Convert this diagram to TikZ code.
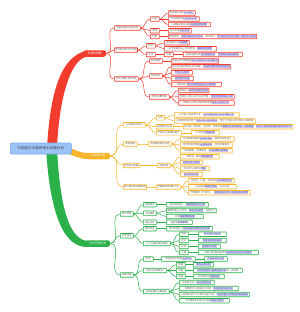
\documentclass[tikz,border=0pt]{standalone}
\usepackage{fontspec}
\setmainfont{Noto Sans CJK SC}
\definecolor{cR}{HTML}{F23C2E}
\definecolor{cO}{HTML}{F7B52C}
\definecolor{cG}{HTML}{2BB14A}
\definecolor{tc}{HTML}{606060}
\definecolor{hlc}{HTML}{CFCBF2}
\definecolor{hlt}{HTML}{5A58B8}
\definecolor{rootf}{HTML}{9EC3F7}
\definecolor{rootd}{HTML}{78A8EE}
\newcommand\fs{\fontsize{2.4}{2.6}\selectfont}
\newcommand\hl[1]{{\setlength{\fboxsep}{0.15bp}\colorbox{hlc}{\textcolor{hlt}{#1}}}}
\newcommand\lnk[3]{\foreach \cc in {#3} \draw[#1,con] (#2.east) to[out=0,in=180] (\cc.west);}
\begin{document}
\begin{tikzpicture}[x=1bp,y=-1bp,
 box/.style={anchor=west, fill=white, line width=0.7bp, rounded corners=0.5bp, inner xsep=0.8bp, inner ysep=0bp, minimum height=4.6bp, text height=1.9bp, text depth=0.5bp, font=\fs, text=tc},
 rb/.style={box,draw=cR}, ob/.style={box,draw=cO}, gb/.style={box,draw=cG},
 mainbox/.style={anchor=west, rounded corners=2.5bp, inner sep=0bp, minimum height=6.5bp, text height=2.3bp, text depth=0.6bp, font=\fontsize{2.8}{3}\selectfont, text=white},
 con/.style={line width=0.5bp},
]
\fill[white] (0,0) rectangle (300,312);
\useasboundingbox (0,0) rectangle (300,312);
% thick branches
\fill[cR] (47,148) .. controls (50,95) and (60,55) .. (88,50.5) -- (88,56.5) .. controls (70,58) and (59,100) .. (57,148) -- cycle;
\fill[cG] (46,148) .. controls (50,215) and (64,248) .. (88,247) -- (88,241) .. controls (70,240) and (60,210) .. (57,148) -- cycle;
\fill[cO] (66,146.5) .. controls (75,149) and (78,153) .. (88,153) -- (88,159) .. controls (78,159) and (74,155) .. (66,153.5) -- cycle;
% root
\node[anchor=west, fill=rootf, draw=rootd, line width=0.6bp, rounded corners=1bp, minimum width=61bp, minimum height=11bp, inner sep=0bp, font=\fontsize{3.6}{4}\selectfont, text=black!75] (root) at (10,148.5) {中国成为半殖民地半封建社会};
% main nodes
\node[mainbox, fill=cR, minimum width=23bp] (R) at (83,53.5) {列强的侵略};
\node[mainbox, fill=cO, minimum width=24bp] (O) at (86,156) {反侵略斗争};
\node[mainbox, fill=cG, minimum width=25bp] (N) at (85,243.5) {近代历史任务};
% ---------- red
\node[rb,minimum width=26bp] (A) at (114,28) {军事侵略与政治控制};
\node[rb,minimum width=9bp] (A1) at (150,19) {战争};
\node[rb,minimum width=9bp] (A2) at (150,30.7) {割地};
\node[rb,minimum width=9bp] (A3) at (150,36.5) {控制};
\node[rb,minimum width=27bp] (A1a) at (168,13) {两次鸦片战争\hl{打开国门}};
\node[rb,minimum width=31bp] (A1b) at (168,19) {中法战争和\hl{中日甲午战争}};
\node[rb,minimum width=42bp] (A1c) at (168,24.5) {八国联军侵华战争\hl{与日俄战争爆发}};
\node[rb,minimum width=23bp] (A2a) at (168,30.7) {割占中国\hl{大片领土}};
\node[rb,minimum width=86bp] (A3a) at (168,36.5) {勒索赔款，\hl{控制中国内政与外交}，把持海关，\hl{在中国划分势力范围，掀起瓜分狂潮}};
\node[rb,minimum width=23bp] (B) at (114,50) {经济掠夺和文化渗透};
\node[rb,minimum width=9bp] (B1) at (146,45.8) {经济};
\node[rb,minimum width=9bp] (B2) at (146,54.5) {文化};
\node[rb,minimum width=25bp] (B1a) at (164,42.7) {控制通商口岸\hl{和贸易}};
\node[rb,minimum width=52bp] (B1b) at (164,48.8) {对华倾销商品，掠夺原料，\hl{操纵经济命脉}};
\node[rb,minimum width=9bp] (B2a) at (164,54.5) {宗教};
\node[rb,minimum width=59bp] (B2b) at (183,54.5) {披着宗教外衣\hl{进行侵略活动}，\hl{为侵略中国制造舆论}};
\node[rb,minimum width=24bp] (C) at (114,79) {近代中国社会的变化};
\node[rb,minimum width=13bp] (C1) at (149,61) {社会性质};
\node[rb,minimum width=13bp] (C2) at (149,76) {阶级变化};
\node[rb,minimum width=20bp] (C3) at (149,97) {两对主要矛盾};
\node[rb,minimum width=46bp] (C1a) at (171,61) {由独立的封建国家\hl{变为半殖民地半封建国家}};
\node[rb,minimum width=55bp] (C2a) at (171,66.7) {地主阶级是封建统治的基础，\hl{农民阶级是主要被剥削者}};
\node[rb,minimum width=21bp] (C2b) at (171,72.7) {\hl{产生工人阶级}};
\node[rb,minimum width=22bp] (C2c) at (171,78.5) {\hl{民族资产阶级}};
\node[rb,minimum width=50bp] (C2d) at (171,84.5) {官僚买办\hl{资产阶级是帝国主义的附庸}};
\node[rb,minimum width=30bp] (C3a) at (178,90.5) {帝国主义\hl{和中华民族的矛盾}};
\node[rb,minimum width=56bp] (C3b) at (178,96.7) {封建主义和人民大众的矛盾，\hl{两对矛盾交织在一起}};
\node[rb,minimum width=56bp] (C3c) at (178,103) {帝国主义和中华民族的矛盾\hl{是最主要的矛盾}};
\lnk{cR}{R}{A,B,C}
\lnk{cR}{A}{A1,A2,A3}
\lnk{cR}{A1}{A1a,A1b,A1c}
\lnk{cR}{A2}{A2a}
\lnk{cR}{A3}{A3a}
\lnk{cR}{B}{B1,B2}
\lnk{cR}{B1}{B1a,B1b}
\lnk{cR}{B2}{B2a}
\lnk{cR}{B2a}{B2b}
\lnk{cR}{C}{C1,C2,C3}
\lnk{cR}{C1}{C1a}
\lnk{cR}{C2}{C2a,C2b,C2c,C2d}
\lnk{cR}{C3}{C3a,C3b,C3c}
% ---------- orange
\node[ob,minimum width=22bp] (D) at (123,124.8) {人民群众的反抗};
\node[ob,minimum width=8bp] (D1) at (156,117.8) {斗争};
\node[ob,minimum width=17bp] (D2) at (156,126.7) {爱国官兵抗战};
\node[ob,minimum width=25bp] (D3) at (156,132.8) {列强瓜分图谋的破产};
\node[ob,minimum width=65bp] (D1a) at (174,115) {三元里人民抗英斗争，\hl{太平天国运动中的反侵略斗争}};
\node[ob,minimum width=81bp] (D1b) at (174,121) {义和团运动粉碎了\hl{列强瓜分中国的图谋}，显示了中国人民不屈的斗争精神};
\node[ob,minimum width=107bp] (D2a) at (183,126.7) {关天培、陈化成、左宝贵、邓世昌等\hl{爱国将士英勇抗敌，为国捐躯}，\hl{表现了崇高的爱国精神和民族气节}};
\node[ob,minimum width=28bp] (D3a) at (191,132.8) {中华民族\hl{顽强抗争}};
\node[ob,minimum width=14bp] (E) at (123,144) {失败原因};
\node[ob,minimum width=23bp] (E1) at (148,144) {反侵略战争的失败};
\node[ob,minimum width=54bp] (E1a) at (180,139) {社会制度的腐败\hl{是根本原因}，清政府妥协退让};
\node[ob,minimum width=52bp] (E1b) at (180,145) {经济技术的落后\hl{是重要原因}，军队装备落后};
\node[ob,minimum width=52bp] (E1c) at (180,150.7) {政治腐败，军事落后，\hl{无法抵御外国侵略}};
\node[ob,minimum width=16bp] (F) at (123,165.5) {民族意识觉醒};
\node[ob,minimum width=13bp] (F1) at (157,165.5) {觉醒历程};
\node[ob,minimum width=39bp] (F1a) at (180,156.7) {林则徐、魏源\hl{开眼看世界}};
\node[ob,minimum width=22bp] (F1b) at (180,162.5) {\hl{师夷长技以制夷}};
\node[ob,minimum width=29bp] (F1c) at (180,168.5) {中日甲午战争后\hl{觉醒}};
\node[ob,minimum width=22bp] (F1d) at (180,174.5) {\hl{振兴中华口号}};
\node[ob,minimum width=23bp] (G) at (123,187) {救亡图存的早期探索};
\node[ob,minimum width=24bp] (G1) at (156,187) {早期维新思想的产生};
\node[ob,minimum width=46bp] (G1a) at (188,180.7) {冯桂芬、王韬、郑观应等\hl{人的维新主张}};
\node[ob,minimum width=48bp] (G1b) at (188,186.7) {主张发展\hl{民族工商业}，设立议院};
\node[ob,minimum width=62bp] (G1c) at (188,192.7) {严复翻译《天演论》，\hl{宣传物竞天择、适者生存的思想}};
\lnk{cO}{O}{D,E,F,G}
\lnk{cO}{D}{D1,D2,D3}
\lnk{cO}{D1}{D1a,D1b}
\lnk{cO}{D2}{D2a}
\lnk{cO}{D3}{D3a}
\lnk{cO}{E}{E1}
\lnk{cO}{E1}{E1a,E1b,E1c}
\lnk{cO}{F}{F1}
\lnk{cO}{F1}{F1a,F1b,F1c,F1d}
\lnk{cO}{G}{G1}
\lnk{cO}{G1}{G1a,G1b,G1c}
% ---------- green
\node[gb,minimum width=13bp] (H) at (120,214) {两大任务};
\node[gb,minimum width=13bp] (H1) at (143,204.7) {民族独立};
\node[gb,minimum width=13bp] (H2) at (143,213.3) {人民解放};
\node[gb,minimum width=13bp] (H3) at (143,222.3) {相互关系};
\node[gb,minimum width=42bp] (H1a) at (166,204.7) {争取民族独立，\hl{摆脱帝国主义压迫}};
\node[gb,minimum width=50bp] (H2a) at (166,210.5) {推翻封建主义统治，\hl{实现人民解放}，当家作主};
\node[gb,minimum width=37bp] (H2b) at (166,216.5) {实现\hl{国家繁荣富强}};
\node[gb,minimum width=26bp] (H3a) at (166,222.3) {前者是\hl{后者前提}};
\node[gb,minimum width=13bp] (I) at (120,235.7) {社会特征};
\node[gb,minimum width=13bp] (I1) at (143,228.7) {基本特征};
\node[gb,minimum width=27bp] (I2) at (143,243.5) {六个方面的具体表现};
\node[gb,minimum width=46bp] (I1a) at (166,228.7) {资本帝国主义\hl{成为支配中国的决定力量}};
\node[gb,minimum width=9bp] (I2a) at (179,234.2) {政治};
\node[gb,minimum width=9bp] (I2b) at (179,240.5) {经济};
\node[gb,minimum width=9bp] (I2c) at (179,246.5) {社会};
\node[gb,minimum width=9bp] (I2d) at (179,252.5) {人民};
\node[gb,minimum width=28bp] (I2a1) at (198,234.2) {\hl{失去独立的主权}};
\node[gb,minimum width=28bp] (I2b1) at (198,240.5) {\hl{封建剥削制度保持}};
\node[gb,minimum width=22bp] (I2c1) at (198,246.5) {\hl{发展极不平衡}};
\node[gb,minimum width=60bp] (I2d1) at (198,252.5) {中国人民特别是农民\hl{日益贫困化以至大批破产}};
\node[gb,minimum width=13bp] (J) at (120,275) {发展过程};
\node[gb,minimum width=10bp] (J1) at (143,259) {阶段};
\node[gb,minimum width=34bp] (J1a) at (161,259) {半殖民地半封建\hl{社会形成}};
\node[gb,minimum width=23bp] (J1b) at (204,259) {\hl{不断加深的过程}};
\node[gb,minimum width=23bp] (J2) at (143,270.5) {各阶段主要事件};
\node[gb,minimum width=9bp] (J2a) at (176,264.7) {初期};
\node[gb,minimum width=9bp] (J2b) at (176,270.5) {中期};
\node[gb,minimum width=9bp] (J2c) at (176,276.5) {后期};
\node[gb,minimum width=20bp] (J2a1) at (193,264.7) {\hl{鸦片战争以后}};
\node[gb,minimum width=49bp] (J2b1) at (193,270.5) {\hl{甲午战争和八国联军侵华后}进一步加深};
\node[gb,minimum width=31bp] (J2c1) at (193,276.5) {辛亥革命后\hl{继续存在}};
\node[gb,minimum width=26bp] (J3) at (143,291.5) {社会发展的主要趋势};
\node[gb,minimum width=35bp] (J3a) at (179,282.5) {外国资本主义\hl{的入侵与压迫}};
\node[gb,minimum width=59bp] (J3b) at (179,288.5) {封建势力与帝国主义勾结，\hl{共同压迫中国人民}};
\node[gb,minimum width=70bp] (J3c) at (179,294.5) {人民群众进行了不屈不挠的斗争，\hl{先进中国人不断探索救国道路}};
\node[gb,minimum width=50bp] (J3d) at (179,300.7) {为中国革命的发生和发展\hl{提供了条件}};
\lnk{cG}{N}{H,I,J}
\lnk{cG}{H}{H1,H2,H3}
\lnk{cG}{H1}{H1a}
\lnk{cG}{H2}{H2a,H2b}
\lnk{cG}{H3}{H3a}
\lnk{cG}{I}{I1,I2}
\lnk{cG}{I1}{I1a}
\lnk{cG}{I2}{I2a,I2b,I2c,I2d}
\lnk{cG}{I2a}{I2a1}
\lnk{cG}{I2b}{I2b1}
\lnk{cG}{I2c}{I2c1}
\lnk{cG}{I2d}{I2d1}
\lnk{cG}{J}{J1,J2,J3}
\lnk{cG}{J1}{J1a}
\lnk{cG}{J1a}{J1b}
\lnk{cG}{J2}{J2a,J2b,J2c}
\lnk{cG}{J2a}{J2a1}
\lnk{cG}{J2b}{J2b1}
\lnk{cG}{J2c}{J2c1}
\lnk{cG}{J3}{J3a,J3b,J3c,J3d}
\end{tikzpicture}
\end{document}
